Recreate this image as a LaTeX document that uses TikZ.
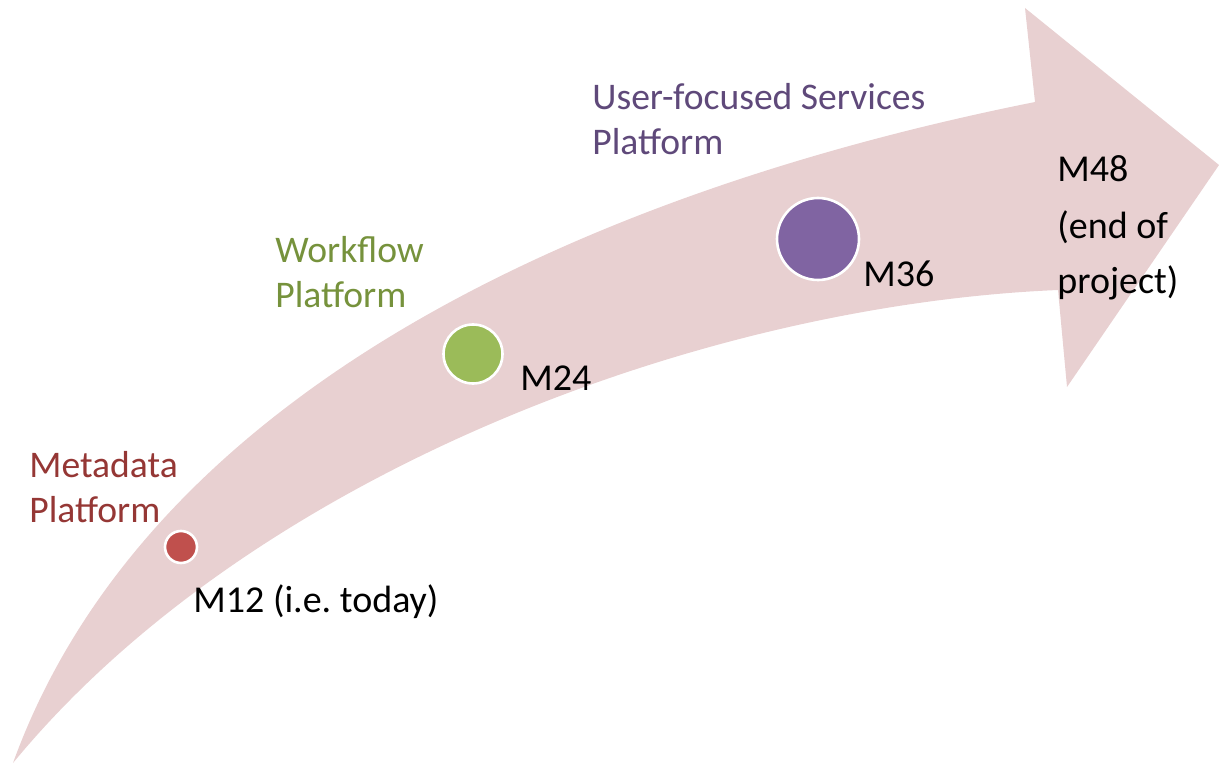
\documentclass[tikz,border=0pt]{standalone}
\usepackage{fontspec}
\setmainfont{Carlito}
\frenchspacing
\definecolor{bandfill}{HTML}{E8D0D1}
\definecolor{redtitle}{HTML}{953735}
\definecolor{greentitle}{HTML}{76923C}
\definecolor{purpletitle}{HTML}{5F497A}
\definecolor{reddot}{HTML}{C0504D}
\definecolor{greendot}{HTML}{9BBB59}
\definecolor{purpledot}{HTML}{8064A2}
\tikzset{
  dot/.style={circle, draw=white, line width=1.3pt, inner sep=0pt},
  title/.style={anchor=base west, inner sep=0pt, align=left,
    font=\fontsize{18.8}{22.5}\selectfont},
  mlabel/.style={anchor=base west, inner sep=0pt, align=left,
    font=\fontsize{19}{28}\selectfont, text=black},
}
\begin{document}
\begin{tikzpicture}[x=0.5pt,y=-0.5pt]
\useasboundingbox (0,0) rectangle (1219,764);
% curved arrow
\fill[bandfill] (13,763) .. controls (150,385) and (600,189) .. (1035,102)
  -- (1025,8) -- (1219,165) -- (1067,387) -- (1058,290)
  .. controls (700,305) and (250,475) .. (13,763) -- cycle;
% milestones
\node[dot, fill=reddot, minimum size=16pt] (m12) at (181,547) {};
\node[dot, fill=greendot, minimum size=29.5pt] (m24) at (473,354) {};
\node[dot, fill=purpledot, minimum size=41pt] (m36) at (818,239) {};
% labels (base anchor = baseline of last line)
\node[title, text=redtitle] (t1) at (29,522) {Metadata\\Platform};
\node[title, text=greentitle] (t2) at (275,307) {Workflow\\Platform};
\node[title, text=purpletitle] (t3) at (592,155) {User-focused Services\\Platform};
\node[mlabel] (l12) at (193,612) {M12 (i.e.\ today)};
\node[mlabel] (l24) at (520,390) {M24};
\node[mlabel] (l36) at (863,287) {M36};
\node[mlabel] (l48) at (1057,294) {M48\\(end of\\project)};
\end{tikzpicture}
\end{document}
